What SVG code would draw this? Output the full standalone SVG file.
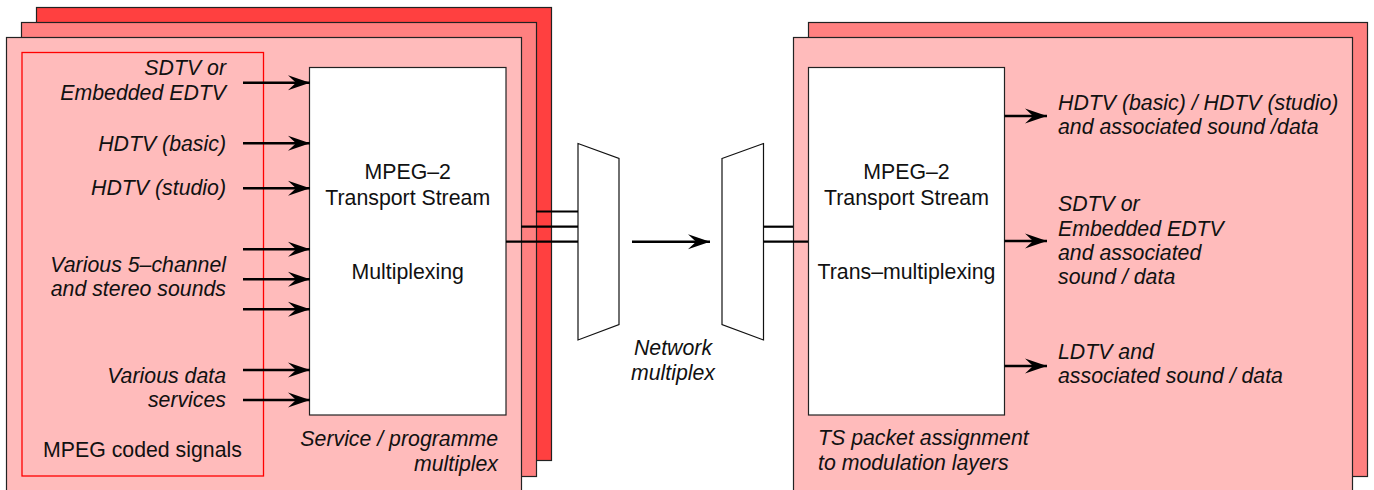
<svg xmlns="http://www.w3.org/2000/svg" width="1374" height="490" viewBox="0 0 1374 490">
<style>
.layer{stroke:#222;stroke-width:1.2}
.l1{fill:#FFBBBB}.l2{fill:#FF8080}.l3{fill:#FF4040}
.box{fill:#fff;stroke:#222;stroke-width:1.2}
.trap{fill:#fff;stroke:#111;stroke-width:1.2}
.grp{fill:none;stroke:#F00;stroke-width:1.3}
text{font-family:"Liberation Sans",Arial,sans-serif;font-size:21.3px;fill:#111}
.it{font-style:italic}
.r{text-anchor:end}.c{text-anchor:middle}
.arr{stroke:#000;stroke-width:2.6;fill:none;marker-end:url(#ah)}
.ln{stroke:#000;stroke-width:2.2;fill:none}
</style>
<defs>
<marker id="ah" markerUnits="userSpaceOnUse" markerWidth="30" markerHeight="20" viewBox="-24 -10 26 20" refX="0" refY="0" orient="auto">
<path d="M0,0 L-22,-7.5 L-14,0 L-22,7.5 Z" fill="#000"/>
</marker>
</defs>

<g id="left-stack">
<rect class="layer l3" x="36.5" y="7.5" width="515" height="453"/>
<rect class="layer l2" x="21.5" y="22.5" width="515" height="454"/>
<rect class="layer l1" x="6.5" y="37.5" width="515" height="460"/>
</g>

<g id="mpeg-coded-signals">
<rect class="grp" x="22" y="52.5" width="241.5" height="423.5"/>
<text x="43" y="457">MPEG coded signals</text>
</g>

<g id="service-mux">
<rect class="box" x="309.5" y="67.5" width="196.5" height="347.5"/>
<text class="c" x="407.7" y="179">MPEG–2</text>
<text class="c" x="407.7" y="205">Transport Stream</text>
<text class="c" x="407.7" y="279">Multiplexing</text>
<text class="it r" x="498" y="446">Service / programme</text>
<text class="it r" x="498" y="471">multiplex</text>
</g>

<g id="inputs">
<text class="it r" x="226" y="75">SDTV or</text>
<text class="it r" x="226" y="100">Embedded EDTV</text>
<text class="it r" x="226" y="150.5">HDTV (basic)</text>
<text class="it r" x="226" y="195">HDTV (studio)</text>
<text class="it r" x="226" y="271.7">Various 5–channel</text>
<text class="it r" x="226" y="296">and stereo sounds</text>
<text class="it r" x="226" y="383.3">Various data</text>
<text class="it r" x="226" y="407.3">services</text>
</g>

<g id="network-mux-in">
<polygon class="trap" points="578,143.5 619,158.5 619,324.5 578,340"/>
</g>
<g id="network-mux-out">
<polygon class="trap" points="722,158.5 763.5,143.5 763.5,340 722,324.5"/>
<text class="it c" x="673" y="355">Network</text>
<text class="it c" x="673" y="379.5">multiplex</text>
</g>

<g id="right-stack">
<rect class="layer l2" x="808.5" y="22.5" width="559" height="454"/>
<rect class="layer l1" x="793.5" y="37.5" width="559" height="460"/>
</g>

<g id="trans-mux">
<rect class="box" x="808.5" y="67.5" width="196" height="347.5"/>
<text class="c" x="906.5" y="179">MPEG–2</text>
<text class="c" x="906.5" y="205">Transport Stream</text>
<text class="c" x="906.5" y="279">Trans–multiplexing</text>
<text class="it" x="818" y="445">TS packet assignment</text>
<text class="it" x="818" y="470">to modulation layers</text>
</g>

<g id="outputs">
<text class="it" x="1058" y="110">HDTV (basic) / HDTV (studio)</text>
<text class="it" x="1058" y="134">and associated sound /data</text>
<text class="it" x="1058" y="211">SDTV or</text>
<text class="it" x="1058" y="235.5">Embedded EDTV</text>
<text class="it" x="1058" y="260">and associated</text>
<text class="it" x="1058" y="284">sound / data</text>
<text class="it" x="1058" y="359">LDTV and</text>
<text class="it" x="1058" y="383.3">associated sound / data</text>
</g>

<g id="connectors">
<line class="arr" x1="243" y1="82.7" x2="310" y2="82.7"/>
<line class="arr" x1="243" y1="143.3" x2="310" y2="143.3"/>
<line class="arr" x1="243" y1="188.3" x2="310" y2="188.3"/>
<line class="arr" x1="243" y1="249.3" x2="310" y2="249.3"/>
<line class="arr" x1="243" y1="279.3" x2="310" y2="279.3"/>
<line class="arr" x1="243" y1="309.3" x2="310" y2="309.3"/>
<line class="arr" x1="243" y1="370" x2="310" y2="370"/>
<line class="arr" x1="243" y1="400" x2="310" y2="400"/>
<line class="ln" x1="536" y1="211.5" x2="578" y2="211.5"/>
<line class="ln" x1="521" y1="226.7" x2="578" y2="226.7"/>
<line class="ln" x1="506" y1="241.7" x2="578" y2="241.7"/>
<line class="arr" x1="632" y1="241.7" x2="710" y2="241.7"/>
<line class="ln" x1="763.5" y1="226.7" x2="793" y2="226.7"/>
<line class="ln" x1="763.5" y1="241.7" x2="808" y2="241.7"/>
<line class="arr" x1="1004.5" y1="116" x2="1047" y2="116"/>
<line class="arr" x1="1004.5" y1="241" x2="1047" y2="241"/>
<line class="arr" x1="1004.5" y1="366" x2="1047" y2="366"/>
</g>
</svg>
